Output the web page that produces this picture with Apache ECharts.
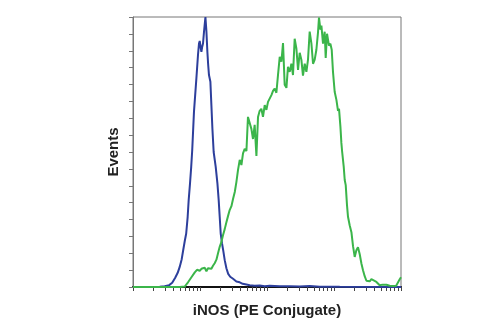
<!DOCTYPE html>
<html>
<head>
<meta charset="utf-8">
<title>iNOS (PE Conjugate)</title>
<script src="https://cdn.jsdelivr.net/npm/echarts@6/dist/echarts.min.js"></script>
<style>
  html, body { margin: 0; padding: 0; background: #fff; }
  #chart { width: 499px; height: 336px; }
</style>
</head>
<body>
<div id="chart"></div>
<script>
// x = log10 of intensity (decades 10^0 .. 10^4), y = events
var blueX = [0, 0.249, 0.399, 0.473, 0.540, 0.585, 0.630, 0.667, 0.697, 0.727, 0.749, 0.772, 0.794, 0.816, 0.831, 0.851, 0.869, 0.884,
  0.910, 0.946, 0.970, 0.985, 0.996, 1.010, 1.021, 1.033, 1.045, 1.060, 1.081, 1.096, 1.110, 1.122, 1.134, 1.155, 1.170, 1.185, 1.204,
  1.234, 1.260, 1.279, 1.294, 1.309, 1.328, 1.346, 1.369, 1.394, 1.421, 1.451, 1.493, 1.543, 1.593, 1.637, 1.693, 1.742, 1.816, 1.891,
  1.966, 2.040, 2.189, 2.339, 2.488, 2.637, 2.787, 3.085, 4.0]
var blueY = [0, 0, 0.1, 0.4, 1.1, 2.5, 5.5, 8.4, 11.9, 16.5, 21.8, 27.1, 31.7, 41.6, 51.5, 61.4, 71.3, 81.2,
  103.8, 123.6, 137.5, 144.3, 145.8, 141.8, 139.4, 142.4, 144.3, 151.3, 160, 151.3, 139.4, 131.7, 125.6, 121.6, 107.8, 93.9, 80.0,
  71.3, 61.4, 51.5, 41.6, 31.7, 26.0, 21.8, 15.9, 11.1, 7.8, 6.1, 4.9, 3.3, 2.8, 1.9, 1.5, 1.0, 0.7, 0.9,
  0.4, 0.8, 0.4, 0.5, 0.3, 0.6, 0.2, 0.1, 0]

var greenX = [0, 0.697, 0.772, 0.821, 0.872, 0.922, 0.955, 0.996, 1.021, 1.045, 1.070, 1.096, 1.119, 1.145, 1.170, 1.194, 1.219,
  1.245, 1.269, 1.294, 1.319, 1.343, 1.369, 1.394, 1.418, 1.443, 1.469, 1.493, 1.519, 1.543, 1.567, 1.593, 1.618, 1.642, 1.667,
  1.693, 1.716, 1.742, 1.767, 1.791, 1.816, 1.842, 1.866, 1.891, 1.916, 1.940, 1.966, 1.991, 2.015, 2.040, 2.066, 2.090, 2.115,
  2.140, 2.164, 2.190, 2.215, 2.239, 2.264, 2.290, 2.313, 2.339, 2.364, 2.388, 2.413, 2.439, 2.463, 2.488, 2.513, 2.537, 2.563,
  2.588, 2.612, 2.637, 2.663, 2.687, 2.712, 2.737, 2.761, 2.776, 2.797, 2.812, 2.836, 2.861, 2.876, 2.896, 2.925, 2.946, 2.966,
  2.985, 3.010, 3.036, 3.060, 3.075, 3.096, 3.110, 3.122, 3.145, 3.160, 3.175, 3.194, 3.209, 3.234, 3.260, 3.284, 3.309, 3.334,
  3.358, 3.384, 3.409, 3.433, 3.458, 3.484, 3.507, 3.533, 3.558, 3.582, 3.633, 3.682, 3.727, 3.782, 3.831, 3.881, 3.928, 3.955,
  3.981, 4.0]
var greenY = [0, 0, 0.3, 2.8, 5.8, 8.7, 10.2, 9.6, 10.8, 10.2, 11.4, 9.3, 11.1, 11.7, 10.8, 12.6, 14.1,
  16.2, 20.0, 23.8, 26.6, 30.7, 34.3, 38.4, 42.0, 45.6, 47.9, 52.1, 56.3, 62.2, 69.3, 75.3, 72.3, 79.2, 81.8,
  80.6, 100.8, 101.8, 93.7, 87.7, 96.1, 77.6, 100.8, 104.4, 105.6, 100.8, 107.8, 105.0, 109.7, 109.1, 113.7, 116.2, 117.6,
  115.1, 125.6, 136.4, 133.5, 144.5, 119.8, 118.0, 130.5, 127.5, 132.3, 125.6, 147.1, 141.2, 128.7, 138.8, 134.7, 125.2, 132.3,
  127.5, 134.7, 151.3, 144.2, 132.3, 134.7, 140.6, 150.7, 159.6, 152.5, 154.9, 144.2, 151.3, 135.8, 150.1, 143.0, 144.2, 140.6,
  127.5, 115.7, 110.9, 104.4, 105.6, 94.9, 85.4, 80.0, 71.3, 63.4, 60.4, 48.5, 41.6, 36.6, 32.5, 24.2, 17.8, 21.8,
  23.6, 19.4, 13.9, 9.9, 6.4, 3.7, 4.6, 3.4, 4.6, 4.0, 3.0, 1.0, 1.4, 1.3, 0.7, 0.6, 0.8, 1.6,
  4.6, 5.8]

var xTitle = 'iNOS (PE Conjugate)'
var yTitle = 'Events'

// log ticks: 1..9 in every decade
var logTicks = []
for (var dec = 0; dec < 4; dec++) {
  for (var k = 1; k < 10; k++) {
    logTicks.push(dec + Math.log10(k))
  }
}
logTicks.push(4)

function pairs (xs, ys) {
  return xs.map(function (x, i) { return [x, ys[i]] })
}

var titleFont = "'Liberation Sans Narrow', 'Liberation Sans', Arial, sans-serif"

var myChart = echarts.init(document.getElementById('chart'))
myChart.setOption({
  animation: false,
  grid: {
    left: 133,
    right: 98,
    top: 17,
    bottom: 49,
    show: true,
    borderColor: '#777',
    borderWidth: 1
  },
  xAxis: {
    type: 'value',
    min: 0,
    max: 4,
    name: xTitle,
    nameLocation: 'middle',
    nameGap: 16,
    nameTextStyle: { fontFamily: titleFont, fontWeight: 'bold', fontSize: 15, color: '#222' },
    axisLine: { show: true, lineStyle: { color: '#111', width: 2 } },
    axisTick: { show: true, inside: false, length: 4, customValues: logTicks, lineStyle: { color: '#444', width: 1 } },
    axisLabel: { show: false },
    splitLine: { show: false }
  },
  yAxis: {
    type: 'value',
    min: 0,
    max: 160,
    interval: 10,
    name: yTitle,
    nameLocation: 'middle',
    nameGap: 12,
    nameTextStyle: { fontFamily: titleFont, fontWeight: 'bold', fontSize: 15, color: '#222' },
    axisLine: { show: true, lineStyle: { color: '#777', width: 1 } },
    axisTick: { show: true, inside: false, length: 4, lineStyle: { color: '#777' } },
    axisLabel: { show: false },
    splitLine: { show: false }
  },
  series: [
    {
      name: 'control',
      type: 'line',
      data: pairs(blueX, blueY),
      showSymbol: false,
      lineStyle: { color: '#2d3f9c', width: 2 },
      z: 2
    },
    {
      name: 'iNOS',
      type: 'line',
      data: pairs(greenX, greenY),
      showSymbol: false,
      lineStyle: { color: '#3bb54a', width: 2 },
      z: 3
    }
  ]
})
</script>
</body>
</html>
